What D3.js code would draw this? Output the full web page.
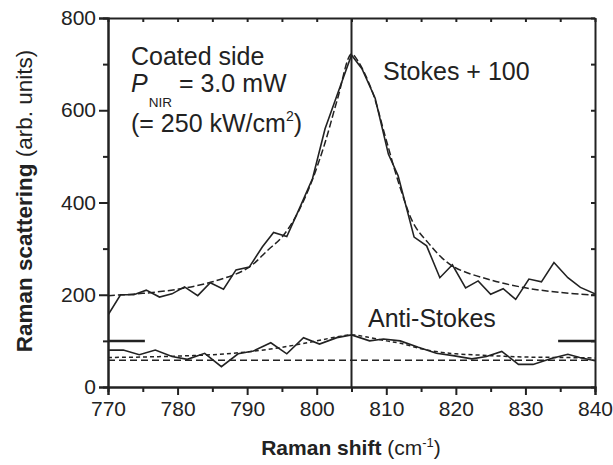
<!DOCTYPE html>
<html lang="en">
<head>
  <meta charset="UTF-8" />
  <title>Raman scattering</title>
  <script src="https://d3js.org/d3.v7.min.js"></script>
  <style>
    body { margin: 0; background: #fff; }
    text { font-family: "Liberation Sans", Arial, sans-serif; fill: #222; }
  </style>
</head>
<body>
  <svg width="613" height="465"></svg>
  <script>
    // Stokes data (plotted with +100 offset)
    const stokesShift = [770, 771.8, 773.7, 775.5, 777.4, 779.2, 781.0, 782.9, 784.7, 786.6, 788.4, 790.3, 792.2, 793.8, 795.7, 797.6, 799.4, 801.2, 803.1, 805.0, 806.5, 808.4, 810.3, 811.7, 814.0, 815.8, 817.7, 819.5, 821.4, 823.2, 825.0, 826.8, 828.6, 830.5, 832.3, 834.1, 836.1, 837.9, 840.0];
    const stokesCounts = [56, 100, 100, 110, 95, 102, 117, 98, 126, 112, 154, 160, 204, 235, 226, 290, 352, 460, 540, 620, 590, 526, 405, 358, 225, 206, 137, 165, 115, 130, 101, 113, 90, 134, 128, 170, 137, 116, 102];
    const stokesOffset = 100;

    // Stokes fit
    const stokesFitShift = [770, 775, 780, 785, 790, 793, 795, 797, 799, 801, 803, 805, 806, 808, 810, 812, 814, 816, 818, 820, 825, 830, 835, 840];
    const stokesFitCounts = [98, 103, 112, 128, 157, 197, 225, 270, 335, 420, 525, 622, 605, 540, 435, 332, 252, 213, 180, 158, 132, 115, 105, 99];

    // Anti-Stokes data and fit
    const antiShift = [770, 772.2, 774.5, 776.8, 779.2, 781.4, 783.9, 786.3, 788.7, 790.9, 793.4, 795.7, 798.1, 800.4, 802.9, 805, 807.6, 809.6, 812, 814.6, 817.2, 819.6, 822.3, 824.4, 826.6, 829, 831.1, 833.7, 836.1, 837.8, 840];
    const antiCounts = [80, 80, 70, 80, 66, 60, 73, 44, 72, 78, 96, 72, 107, 93, 107, 113, 100, 104, 100, 86, 73, 68, 61, 66, 77, 49, 49, 62, 71, 64, 57];
    const antiFitShift = [770, 775, 780, 785, 790, 795, 800, 803, 805, 807, 810, 812, 815, 818, 820, 825, 830, 835, 840];
    const antiFitCounts = [64, 65, 67, 70, 76, 86, 100, 109, 113, 109, 100, 95, 83, 75, 72, 68, 65, 64, 63];

    const baseline = 58;
    const peakShift = 805;

    const xTicks = [770, 780, 790, 800, 810, 820, 830, 840];
    const yTicks = [0, 200, 400, 600, 800];

    const svg = d3.select("svg");
    const ink = "#222";

    const x = d3.scaleLinear().domain([770, 840]).range([108, 595]);
    const y = d3.scaleLinear().domain([0, 800]).range([387, 18]);

    // clip for the curves
    svg.append("clipPath").attr("id", "plot")
      .append("rect").attr("x", 108).attr("y", 18).attr("width", 487).attr("height", 369);

    const plot = svg.append("g").attr("clip-path", "url(#plot)");

    const line = d3.line().x(d => x(d[0])).y(d => y(d[1]));
    const smooth = d3.line().x(d => x(d[0])).y(d => y(d[1])).curve(d3.curveCatmullRom);

    // baseline (long dashes)
    plot.append("path")
      .datum([[770, baseline], [840, baseline]])
      .attr("d", line).attr("fill", "none").attr("stroke", ink)
      .attr("stroke-width", 1.5).attr("stroke-dasharray", "7,4");

    // fits
    plot.append("path")
      .datum(stokesFitShift.map((s, i) => [s, stokesFitCounts[i] + stokesOffset]))
      .attr("d", smooth).attr("fill", "none").attr("stroke", ink)
      .attr("stroke-width", 1.5).attr("stroke-dasharray", "7,3");

    plot.append("path")
      .datum(antiFitShift.map((s, i) => [s, antiFitCounts[i]]))
      .attr("d", smooth).attr("fill", "none").attr("stroke", ink)
      .attr("stroke-width", 1.5).attr("stroke-dasharray", "4,3");

    // data
    plot.append("path")
      .datum(stokesShift.map((s, i) => [s, stokesCounts[i] + stokesOffset]))
      .attr("d", line).attr("fill", "none").attr("stroke", ink).attr("stroke-width", 1.6);

    plot.append("path")
      .datum(antiShift.map((s, i) => [s, antiCounts[i]]))
      .attr("d", line).attr("fill", "none").attr("stroke", ink).attr("stroke-width", 1.6);

    // offset markers at 100
    svg.append("line").attr("x1", x(770)).attr("x2", x(775.3))
      .attr("y1", y(stokesOffset)).attr("y2", y(stokesOffset))
      .attr("stroke", ink).attr("stroke-width", 2.5);
    svg.append("line").attr("x1", x(834.7)).attr("x2", x(840))
      .attr("y1", y(stokesOffset)).attr("y2", y(stokesOffset))
      .attr("stroke", ink).attr("stroke-width", 2.5);

    // vertical line at peak
    svg.append("line").attr("x1", x(peakShift)).attr("x2", x(peakShift))
      .attr("y1", y(0)).attr("y2", y(800))
      .attr("stroke", ink).attr("stroke-width", 2);

    // axes
    const styleAxis = g => {
      g.select(".domain").attr("stroke", ink).attr("stroke-width", 2);
      g.selectAll(".tick line").attr("stroke", ink).attr("stroke-width", 2);
      g.selectAll(".tick text").attr("fill", ink)
        .style("font-family", "'Liberation Sans', Arial, sans-serif").style("font-size", "21px");
    };

    svg.append("g").attr("transform", "translate(0,387)")
      .call(d3.axisBottom(x).tickValues(d3.range(775, 840, 10)).tickSize(5).tickFormat(""))
      .call(styleAxis);
    svg.append("g").attr("transform", "translate(0,387)")
      .call(d3.axisBottom(x).tickValues(xTicks).tickSize(8).tickPadding(6).tickFormat(d3.format("d")))
      .call(styleAxis);

    svg.append("g").attr("transform", "translate(108,0)")
      .call(d3.axisLeft(y).tickValues(d3.range(100, 800, 200)).tickSize(5).tickFormat(""))
      .call(styleAxis);
    svg.append("g").attr("transform", "translate(108,0)")
      .call(d3.axisLeft(y).tickValues(yTicks).tickSize(9).tickPadding(3).tickFormat(d3.format("d")))
      .call(styleAxis);

    svg.append("g").attr("transform", "translate(0,18)")
      .call(d3.axisBottom(x).tickValues(d3.range(770, 841, 5)).tickSizeInner(4).tickSizeOuter(0).tickFormat(""))
      .call(styleAxis);
    svg.append("g").attr("transform", "translate(595,0)")
      .call(d3.axisLeft(y).tickValues(d3.range(0, 801, 100)).tickSizeInner(4).tickSizeOuter(0).tickFormat(""))
      .call(styleAxis);

    // axis titles
    const xt = svg.append("text").attr("x", 351).attr("y", 455)
      .attr("text-anchor", "middle").style("font-size", "21px");
    xt.append("tspan").attr("font-weight", "bold").text("Raman shift");
    xt.append("tspan").text(" (cm");
    xt.append("tspan").attr("dy", -8).style("font-size", "13px").text("-1");
    xt.append("tspan").attr("dy", 8).text(")");

    const yt = svg.append("text").attr("transform", "translate(32,201) rotate(-90)")
      .attr("text-anchor", "middle").style("font-size", "22.5px");
    yt.append("tspan").attr("font-weight", "bold").text("Raman scattering");
    yt.append("tspan").text(" (arb. units)");

    // annotations
    const ann = 25;
    svg.append("text").attr("x", 131).attr("y", 65).style("font-size", ann + "px").text("Coated side");
    const p = svg.append("text").attr("x", 131).attr("y", 92).style("font-size", ann + "px");
    p.append("tspan").attr("font-style", "italic").text("P");
    p.append("tspan").attr("dy", 15).attr("dx", 1).style("font-size", "13.5px").text("NIR");
    p.append("tspan").attr("dy", -15).text(" = 3.0 mW");
    const q = svg.append("text").attr("x", 131).attr("y", 132).style("font-size", ann + "px");
    q.append("tspan").text("(= 250 kW/cm");
    q.append("tspan").attr("dy", -11).style("font-size", "14px").text("2");
    q.append("tspan").attr("dy", 11).text(")");

    svg.append("text").attr("x", 383).attr("y", 80).style("font-size", ann + "px").text("Stokes + 100");
    svg.append("text").attr("x", 368).attr("y", 327).style("font-size", ann + "px").text("Anti-Stokes");
  </script>
</body>
</html>
